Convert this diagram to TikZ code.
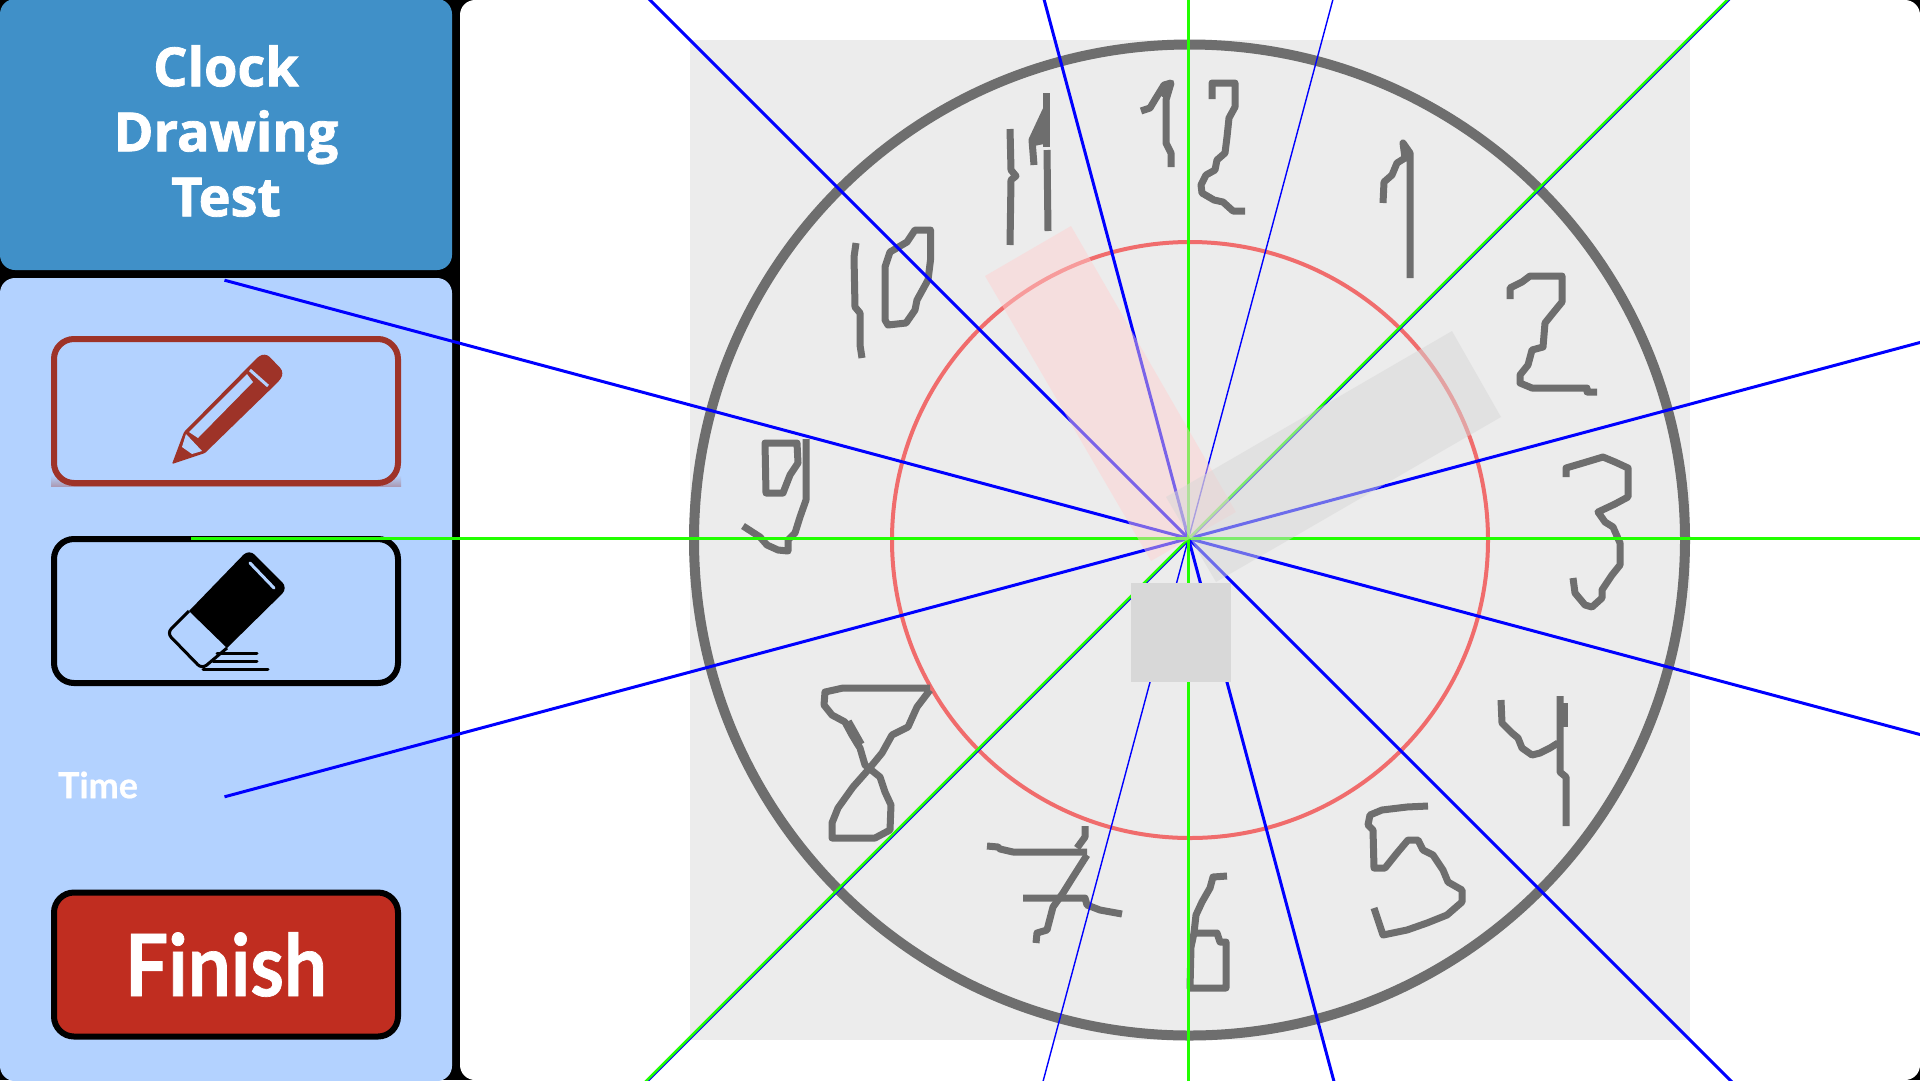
\documentclass[tikz,border=0pt]{standalone}
\usepackage{fontspec}
\setmainfont{Open Sans}[BoldFeatures={FakeBold=1.5}]
\newfontfamily\labelfont{Lato}[BoldFeatures={FakeBold=0.6}]
\newfontfamily\finishfont{Lato}[FakeStretch=0.89, BoldFeatures={FakeBold=0.8}]
\definecolor{titleblue}{HTML}{4090C8}
\definecolor{panelblue}{HTML}{B3D2FF}
\definecolor{penred}{HTML}{9E3328}
\definecolor{finishred}{HTML}{C02D20}
\definecolor{paper}{HTML}{ECECEC}
\definecolor{pencil}{HTML}{6E6E6E}
\definecolor{ringred}{HTML}{F06C6C}
\definecolor{lime}{HTML}{22FF00}
\definecolor{pinktint}{HTML}{FFD0D0}
\definecolor{greytint}{HTML}{D8D8D8}
\tikzset{
  button/.style={draw=black, line width=6pt, rounded corners=20pt, minimum width=344pt, minimum height=144pt, inner sep=0pt},
  ink/.style={draw=pencil, line width=7pt, line join=round},
  spoke/.style={draw=blue, line width=3pt},
  thinspoke/.style={draw=blue, line width=1.4pt},
  axis/.style={draw=lime, line width=3.5pt},
}

\begin{document}
\begin{tikzpicture}[x=1pt, y=-1pt]
\useasboundingbox (0,0) rectangle (1920,1080);
\clip (0,0) rectangle (1920,1080);
\coordinate (hub) at (1188.5,538.5);
% background and panels
\fill[black] (0,0) rectangle (1920,1080);
\fill[white, rounded corners=15pt] (460,0) rectangle (1920,1080);
\fill[titleblue, rounded corners=15pt] (0,-1) rectangle (452,270);
\fill[panelblue, rounded corners=15pt] (0,278) rectangle (452,1081);
% sheet
\fill[paper] (690,40) rectangle (1690,1040);

% title and time
\node[text=white, font=\fontsize{54}{65}\selectfont\bfseries, align=center] (title) at (226,131) {Clock\\Drawing\\Test};
\node[text=white, font=\labelfont\fontsize{36}{36}\selectfont\bfseries] (time) at (98,785) {Time};

% pen button
\shade[top color=panelblue, bottom color=penred!35!panelblue] (51,475) rectangle (401,486);
\node[button, draw=penred, fill=panelblue] (penbtn) at (226,411) {};
\fill[penred, rounded corners=1pt] (172,464) -- (184,432) -- (257,358) [rounded corners=7pt] -- (265,352) -- (285,373) [rounded corners=1pt] -- (278,382) -- (205,453) -- cycle;
\fill[panelblue] (247,374) -- (253,382) -- (198,438) -- (189,432) -- cycle;
\fill[panelblue] (186,434) -- (202,451) -- (192,454) -- (182,447) -- cycle;
\draw[panelblue, line width=3pt] (250,370) -- (268,386);

% eraser button
\node[button] (erasebtn) at (226,611) {};
\fill[black] (189,611) [rounded corners=8pt] -- (249,549) -- (288,588) [sharp corners] -- (227,648) -- cycle;
\draw[black, line width=3pt, rounded corners=6pt] (189,611) -- (167,633) -- (202,669) -- (227,648);
\draw[panelblue, line width=3pt, line cap=round] (250,563) -- (274,588);
\draw[black, line width=3pt, line cap=round] (217,653) -- (257,653);
\draw[black, line width=3pt, line cap=round] (213,661) -- (257,661);
\draw[black, line width=3pt, line cap=round] (203,669) -- (268,669);

% finish button
\node[button, fill=finishred, text=white, font=\finishfont\fontsize{86}{86}\selectfont\bfseries] (finishbtn) at (226,964.5) {Finish};

% ring and guide circle
\draw[pencil, line width=10pt] (1189.5,540) circle (495.5);
\draw[ringred, line width=4pt] (1190,540) circle (298);

% digit 1
\draw[ink] (1383,203) -- (1384,182) -- (1392,175) -- (1397,163) -- (1405,158) -- (1403,143) -- (1410,153) -- (1410,278);
% digit 2
\draw[ink] (1510,299) -- (1510,288) -- (1522,282) -- (1530,276) -- (1562,276) -- (1562,302) -- (1553,313) -- (1545,323) -- (1543,347) -- (1532,350) -- (1528,365) -- (1520,375) -- (1520,383) -- (1532,388) -- (1587,388) -- (1587,392) -- (1597,392);
% digit 3
\draw[ink] (1566,477) -- (1566,468) -- (1583,463) -- (1603,457) -- (1615,462) -- (1628,468) -- (1628,497) -- (1615,504) -- (1598,512) -- (1605,522) -- (1613,527) -- (1620,543) -- (1620,565) -- (1612,575) -- (1602,590) -- (1602,598) -- (1592,607) -- (1585,605) -- (1575,593) -- (1573,578);
% digit 4
\draw[ink] (1501,700) -- (1502,723) -- (1512,733) -- (1518,738) -- (1522,748) -- (1532,755) -- (1540,753) -- (1550,748) -- (1558,743);
\draw[ink] (1560,696) -- (1560,772) -- (1566,777) -- (1566,826);
\draw[ink] (1564,703) -- (1564,727);
% digit 5
\draw[ink] (1428,806) -- (1407,807) -- (1382,810) -- (1370,815) -- (1368,825) -- (1373,830) -- (1374,868) -- (1385,868) -- (1397,853) -- (1408,840) -- (1418,840) -- (1423,850) -- (1433,855) -- (1443,870) -- (1448,882) -- (1462,890) -- (1462,902) -- (1447,915) -- (1427,923) -- (1407,930) -- (1383,935) -- (1378,920) -- (1374,908);
% digit 6
\draw[ink] (1227,876) -- (1213,877) -- (1210,888) -- (1202,902) -- (1196,915) -- (1194,933) -- (1217,933) -- (1220,942) -- (1226,942) -- (1226,988) -- (1190,988) -- (1191,947) -- (1194,933);
% digit 7
\draw[ink] (987,846) -- (998,847) -- (1000,849) -- (1013,852) -- (1087,852);
\draw[ink] (1085,826) -- (1085,837) -- (1077,848);
\draw[ink] (1087,855) -- (1073,877) -- (1063,893) -- (1053,907) -- (1047,930) -- (1037,933) -- (1036,943);
\draw[ink] (1023,898) -- (1085,898) -- (1087,905) -- (1100,910) -- (1122,914);
% digit 8
\draw[ink] (930,688) -- (843,688) -- (825,692) -- (824,705) -- (832,715) -- (845,722) -- (852,735) -- (860,748) -- (865,765) -- (880,777) -- (885,792) -- (891,805) -- (890,830) -- (875,838) -- (832,838) -- (832,823) -- (838,808) -- (853,787) -- (868,770) -- (882,753) -- (892,735) -- (908,727) -- (917,707) -- (930,690);
\draw[ink, line width=10pt] (847,722) -- (860,745);
% digit 9
\draw[ink] (765,443) -- (797,443) -- (798,463) -- (790,475) -- (783,493) -- (766,493) -- cycle;
\draw[ink] (806,439) -- (806,500) -- (800,517) -- (795,533) -- (788,540) -- (788,551) -- (778,550) -- (767,545) -- (760,537) -- (743,526);
% digit 10
\draw[ink] (856,243) -- (854,257) -- (855,307) -- (860,313) -- (860,345) -- (862,358);
\draw[ink] (915,230) -- (930.5,230) -- (930.5,260) -- (928,280) -- (917,300) -- (915,310) -- (906,323) -- (888,325) -- (885,320) -- (885,267) -- (890,252) -- (907,242) -- cycle;
% digit 11
\draw[ink] (1010,129) -- (1011,170) -- (1016,176) -- (1011,180) -- (1010,245);
\draw[ink] (1046,93) -- (1046,147);
\draw[ink] (1046,110) -- (1032,140) -- (1034,165);
\fill[pencil] (1040,118) -- (1049,118) -- (1049,143) -- (1034,146) -- cycle;
\draw[ink] (1047,150) -- (1048,231);
% digit 12
\draw[ink] (1141,111) -- (1150,108) -- (1156,98) -- (1164,85) -- (1171,83) -- (1166,100) -- (1166,143) -- (1171,153) -- (1171,167);
\draw[ink, line width=10pt] (1160,95) -- (1168,85);
\draw[ink] (1212,99) -- (1212,83) -- (1235,83) -- (1235,107) -- (1229,118) -- (1227,137) -- (1225,153) -- (1217,160) -- (1215,170) -- (1206,175) -- (1201,185) -- (1202,193) -- (1214,200) -- (1223,202) -- (1233,211) -- (1245,211);

% spokes
\draw[spoke] (hub) ++(15:998) -- ++(195:1996);
\draw[spoke] (hub) ++(-15:998) -- ++(165:1996);
\draw[spoke] (hub) ++(45:998) -- ++(225:1996);
\draw[spoke] (hub) ++(75:998) -- ++(255:1996);
\draw[thinspoke] (hub) ++(105:998) -- ++(285:1996);
\draw[thinspoke] (hub) ++(1.2,1.2) ++(-45:998) -- ++(135:1996);
% axes
\draw[axis] (hub) ++(0:998) -- ++(180:1996);
\draw[axis] (hub) ++(90:998) -- ++(270:1996);
\draw[axis, line width=2.5pt] (hub) ++(-45:998) -- ++(135:1996);

% tinted bars
\fill[pinktint, fill opacity=.48] (1071,226) -- (985,276) -- (1151,561) -- (1236,512) -- cycle;
\fill[greytint, fill opacity=.5] (1452,331) -- (1501,417) -- (1216,582) -- (1166,497) -- cycle;
% centre square
\fill[greytint] (1131,583) rectangle (1230.5,682);
\end{tikzpicture}
\end{document}
